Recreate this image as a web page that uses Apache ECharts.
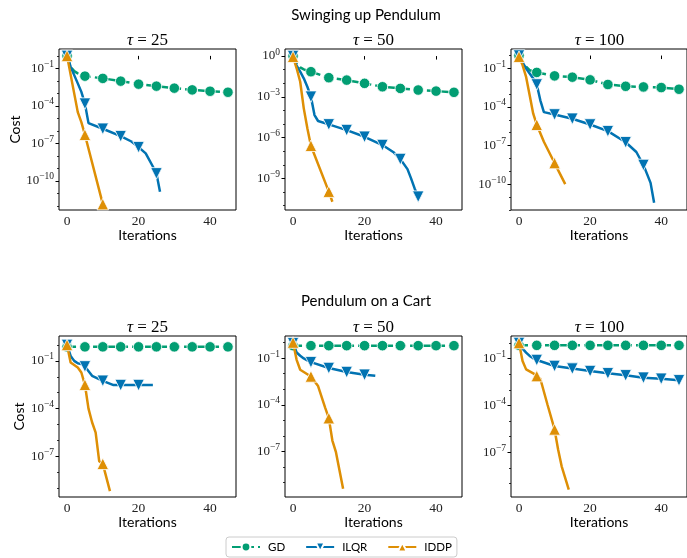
<!DOCTYPE html>
<html>
<head>
<meta charset="utf-8">
<script src="https://cdn.jsdelivr.net/npm/echarts@6/dist/echarts.min.js"></script>
<style>
  html, body { margin: 0; padding: 0; background: #fff; }
  #main { width: 687px; height: 558px; }
</style>
</head>
<body>
<div id="main"></div>
<script>
// 数据: 迭代次数 + log10(cost), 从图上读出来的
// Swinging up Pendulum, tau = 25
const swing25GdIt = [0, 1, 2, 3, 4, 5, 10, 15, 20, 25, 30, 35, 40, 45];
const swing25Gd = [0, -0.87, -1.22, -1.4, -1.52, -1.62, -1.8, -2.02, -2.26, -2.42, -2.58, -2.72, -2.83, -2.91];
const swing25IlqrIt = [0, 1, 2, 3, 4, 5, 6, 10, 15, 18, 20, 22, 24, 25, 26];
const swing25Ilqr = [0, -0.87, -1.54, -2.2, -2.88, -3.82, -5.38, -5.83, -6.42, -6.85, -7.3, -7.8, -8.85, -9.4, -10.87];
const swing25IddpIt = [0, 3, 4, 5, 10];
const swing25Iddp = [0, -4.5, -5.3, -6.31, -11.86];

// Swinging up Pendulum, tau = 50
const swing50GdIt = [0, 1, 2, 3, 4, 5, 10, 15, 20, 25, 30, 35, 40, 45];
const swing50Gd = [0, -0.54, -0.83, -0.98, -1.08, -1.15, -1.59, -1.77, -2.01, -2.26, -2.38, -2.5, -2.58, -2.67];
const swing50IlqrIt = [0, 1, 2, 3, 4, 5, 6, 7, 10, 15, 20, 25, 28, 30, 32, 33, 34, 35];
const swing50Ilqr = [0, -0.71, -1.15, -1.64, -2.26, -2.99, -4.34, -4.78, -5.03, -5.45, -5.94, -6.55, -7.06, -7.58, -8.32, -9.0, -9.74, -10.35];
const swing50IddpIt = [0, 1, 2, 3, 4, 5, 10, 11];
const swing50Iddp = [-0.05, -0.9, -1.89, -3.85, -5.32, -6.6, -9.98, -10.72];

// Swinging up Pendulum, tau = 100
const swing100GdIt = [0, 1, 2, 3, 4, 5, 10, 15, 20, 25, 30, 35, 40, 45];
const swing100Gd = [0, -0.48, -0.87, -1.13, -1.24, -1.31, -1.58, -1.68, -1.89, -2.25, -2.39, -2.44, -2.49, -2.62];
const swing100IlqrIt = [0, 1, 2, 3, 4, 5, 6, 7, 10, 15, 20, 25, 30, 33, 35, 36, 37, 38];
const swing100Ilqr = [0, -0.53, -1.0, -1.39, -1.78, -2.25, -3.48, -4.4, -4.58, -4.91, -5.36, -5.88, -6.74, -7.5, -8.51, -9.2, -9.9, -11.44];
const swing100IddpIt = [0, 1, 2, 3, 4, 5, 7, 10, 13];
const swing100Iddp = [-0.09, -0.74, -1.66, -3.09, -4.52, -5.38, -6.7, -8.36, -10.0];

// Pendulum on a Cart, tau = 25
const cart25GdIt = [0, 5, 10, 15, 20, 25, 30, 35, 40, 45];
const cart25Gd = [-0.12, -0.12, -0.12, -0.12, -0.12, -0.12, -0.12, -0.12, -0.12, -0.12];
const cart25IlqrIt = [0, 1, 2, 3, 4, 5, 7, 10, 13, 15, 20, 24];
const cart25Ilqr = [0, -0.69, -1.0, -1.15, -1.2, -1.35, -1.94, -2.25, -2.52, -2.52, -2.52, -2.52];
const cart25IddpIt = [0, 1, 3, 4, 5, 6, 7, 8, 9, 10, 12];
const cart25Iddp = [0, -1.1, -1.42, -1.73, -2.5, -4.0, -4.85, -5.5, -7.3, -7.46, -9.17];

// Pendulum on a Cart, tau = 50
const cart50GdIt = [0, 5, 10, 15, 20, 25, 30, 35, 40, 45];
const cart50Gd = [-0.2, -0.2, -0.2, -0.2, -0.2, -0.2, -0.2, -0.2, -0.2, -0.2];
const cart50IlqrIt = [0, 1, 2, 3, 4, 5, 10, 15, 20, 23];
const cart50Ilqr = [-0.04, -0.64, -0.85, -1.02, -1.15, -1.26, -1.64, -1.9, -2.07, -2.14];
const cart50IddpIt = [0, 1, 2, 5, 7, 9, 10, 11, 12, 14];
const cart50Iddp = [0, -1.11, -1.75, -2.18, -2.8, -4.2, -4.86, -6.3, -7.05, -9.4];

// Pendulum on a Cart, tau = 100
const cart100GdIt = [0, 5, 10, 15, 20, 25, 30, 35, 40, 45];
const cart100Gd = [-0.15, -0.15, -0.15, -0.15, -0.15, -0.15, -0.15, -0.15, -0.15, -0.15];
const cart100IlqrIt = [0, 1, 2, 3, 4, 5, 10, 15, 20, 25, 30, 35, 40, 45];
const cart100Ilqr = [0, -0.36, -0.61, -0.83, -0.98, -1.09, -1.47, -1.64, -1.8, -1.94, -2.07, -2.22, -2.29, -2.39];
const cart100IddpIt = [0, 1, 2, 4, 5, 6, 8, 10, 11, 12, 14];
const cart100Iddp = [0, -1.15, -1.69, -1.94, -2.12, -2.29, -3.94, -5.54, -6.83, -7.9, -9.4];

// 刻度 (log10)
const yLabelsA = [-1, -4, -7, -10];
const yLabelsB = [0, -3, -6, -9];
const yLabelsC = [-1, -4, -7];
const xLabels = [0, 20, 40];
const legendNames = ['GD', 'ILQR', 'IDDP'];
const tauValues = [25, 50, 100];

const SANS = 'Lato';
const SERIF = 'Liberation Serif';

const STYLE = {
    GD: { color: '#029e73', symbol: 'circle', rotate: 0, size: 10.5, type: [9, 4] },
    ILQR: { color: '#0173b2', symbol: 'triangle', rotate: 180, size: 11.5, type: 'solid' },
    IDDP: { color: '#de8f05', symbol: 'triangle', rotate: 0, size: 11.5, type: 'solid' }
};

const panels = [
    { left: 59, top: 49, yr: [-12.33, 0.55], labels: yLabelsA, tau: tauValues[0],
      d: [[swing25GdIt, swing25Gd], [swing25IlqrIt, swing25Ilqr], [swing25IddpIt, swing25Iddp]] },
    { left: 285, top: 49, yr: [-11.33, 0.52], labels: yLabelsB, tau: tauValues[1],
      d: [[swing50GdIt, swing50Gd], [swing50IlqrIt, swing50Ilqr], [swing50IddpIt, swing50Iddp]] },
    { left: 511, top: 49, yr: [-12.01, 0.51], labels: yLabelsA, tau: tauValues[2],
      d: [[swing100GdIt, swing100Gd], [swing100IlqrIt, swing100Ilqr], [swing100IddpIt, swing100Iddp]] },
    { left: 59, top: 336, yr: [-9.54, 0.56], labels: yLabelsC, tau: tauValues[0],
      d: [[cart25GdIt, cart25Gd], [cart25IlqrIt, cart25Ilqr], [cart25IddpIt, cart25Iddp]] },
    { left: 285, top: 336, yr: [-9.93, 0.42], labels: yLabelsC, tau: tauValues[1],
      d: [[cart50GdIt, cart50Gd], [cart50IlqrIt, cart50Ilqr], [cart50IddpIt, cart50Iddp]] },
    { left: 511, top: 336, yr: [-9.87, 0.45], labels: yLabelsC, tau: tauValues[2],
      d: [[cart100GdIt, cart100Gd], [cart100IlqrIt, cart100Ilqr], [cart100IddpIt, cart100Iddp]] }
];

const GW = 177, GH = 161;

function expLabel(v) {
    const s = v < 0 ? '\u2212' + (-v) : String(v);
    return '{b|10}{s|' + s + '}';
}

const grids = [], xAxes = [], yAxes = [], series = [], titles = [];

titles.push({ text: 'Swinging up Pendulum', left: 366, top: 8, textAlign: 'center', padding: 0,
    textStyle: { fontFamily: SANS, fontSize: 15, fontWeight: 'normal', color: '#000' } });
titles.push({ text: 'Pendulum on a Cart', left: 366, top: 294, textAlign: 'center', padding: 0,
    textStyle: { fontFamily: SANS, fontSize: 15, fontWeight: 'normal', color: '#000' } });

panels.forEach((p, gi) => {
    grids.push({ left: p.left, top: p.top, width: GW, height: GH, show: true,
        borderColor: '#000', borderWidth: 1, backgroundColor: 'transparent' });

    titles.push({
        text: '{t|\u03c4}{n| = ' + p.tau + '}',
        left: p.left + GW / 2, top: p.top - 17, textAlign: 'center', padding: 0,
        textStyle: {
            fontWeight: 'normal',
            rich: {
                t: { fontFamily: SERIF, fontStyle: 'italic', fontWeight: 'normal', fontSize: 17, color: '#000' },
                n: { fontFamily: SERIF, fontWeight: 'normal', fontSize: 17, color: '#000' }
            }
        }
    });

    xAxes.push({
        type: 'value', gridIndex: gi, min: -2.25, max: 47.25,
        axisLine: { show: false }, splitLine: { show: false },
        axisTick: { customValues: xLabels, length: 3.5, lineStyle: { color: '#000' } },
        axisLabel: { customValues: xLabels, margin: 4, fontFamily: SERIF, fontSize: 13.5, color: '#222' },
        name: 'Iterations', nameLocation: 'middle', nameGap: 18,
        nameTextStyle: { fontFamily: SANS, fontSize: 14, color: '#000' }
    });

    // 数据用的对数轴
    yAxes.push({
        type: 'log', logBase: 10, gridIndex: gi,
        min: Math.pow(10, p.yr[0]), max: Math.pow(10, p.yr[1]),
        axisLine: { show: false }, axisTick: { show: false },
        axisLabel: { show: false }, splitLine: { show: false }
    });
    // 标签轴 (指数)
    const ax = {
        type: 'value', gridIndex: gi, position: 'left', min: p.yr[0], max: p.yr[1],
        axisLine: { show: false }, splitLine: { show: false },
        axisTick: { customValues: p.labels, length: 3.5, lineStyle: { color: '#000' } },
        axisLabel: {
            customValues: p.labels, margin: 5, formatter: expLabel,
            rich: {
                b: { fontFamily: SERIF, fontSize: 13, color: '#222' },
                s: { fontFamily: SERIF, fontSize: 9.5, color: '#222', padding: [0, 0, 8, 0] }
            }
        }
    };
    if (gi % 3 === 0) {
        ax.name = 'Cost';
        ax.nameLocation = 'middle';
        ax.nameGap = gi === 0 ? 36 : 33;
        ax.nameTextStyle = { fontFamily: SANS, fontSize: 14, color: '#000' };
    }
    yAxes.push(ax);
    // 小刻度: 每个数量级
    const minor = [];
    for (let e = Math.ceil(p.yr[0]); e <= Math.floor(p.yr[1]); e++) {
        if (p.labels.indexOf(e) < 0) minor.push(e);
    }
    yAxes.push({
        type: 'value', gridIndex: gi, position: 'left', min: p.yr[0], max: p.yr[1],
        axisLine: { show: false }, splitLine: { show: false },
        axisTick: { customValues: minor, length: 2, lineStyle: { color: '#000', width: 0.8 } },
        axisLabel: { show: false }
    });

    legendNames.forEach((name, k) => {
        const st = STYLE[name];
        const it = p.d[k][0], lc = p.d[k][1];
        series.push({
            name: name, type: 'line', xAxisIndex: gi, yAxisIndex: gi * 3,
            data: it.map((x, j) => [x, Math.pow(10, lc[j])]),
            symbol: st.symbol, symbolRotate: st.rotate, showAllSymbol: true,
            symbolSize: v => (v[0] % 5 === 0 ? st.size : 0),
            lineStyle: { color: st.color, width: 2.5, type: st.type },
            itemStyle: { color: st.color, borderColor: '#fff', borderWidth: 0.8 },
            emphasis: { disabled: true },
            z: 2 + k
        });
    });
});

const chart = echarts.init(document.getElementById('main'));
chart.setOption({
    animation: false,
    backgroundColor: '#fff',
    title: titles,
    grid: grids,
    xAxis: xAxes,
    yAxis: yAxes,
    legend: {
        data: legendNames, left: 226, bottom: 1,
        itemWidth: 28, itemHeight: 11, itemGap: 20,
        padding: [4, 5], borderColor: '#ccc', borderWidth: 1, borderRadius: 3,
        textStyle: { fontFamily: SANS, fontSize: 11.5, color: '#000', padding: [0, 0, 0, 3] }
    },
    series: series
});
</script>
</body>
</html>
